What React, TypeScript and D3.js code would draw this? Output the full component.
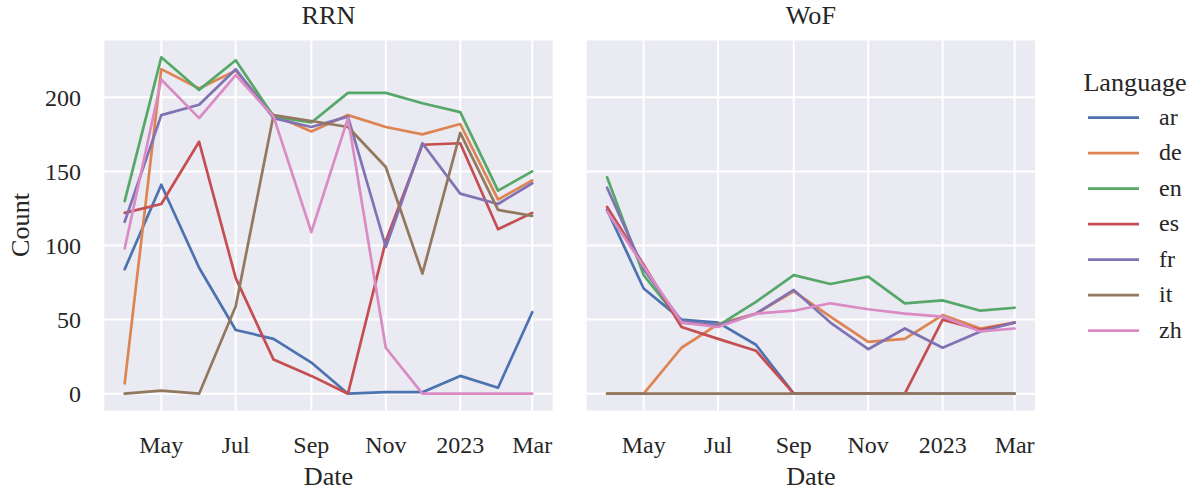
import React from 'react';
import * as d3 from 'd3';

// monthly counts per language, two sources side by side

const months = ['2022-04-01', '2022-05-01', '2022-06-01', '2022-07-01', '2022-08-01', '2022-09-01',
  '2022-10-01', '2022-11-01', '2022-12-01', '2023-01-01', '2023-02-01', '2023-03-01'];

const languages = ['ar', 'de', 'en', 'es', 'fr', 'it', 'zh'];
const panels = ['RRN', 'WoF'];

const rrnAr = [84, 141, 85, 43, 37, 21, 0, 1, 1, 12, 4, 55];
const rrnDe = [7, 219, 206, 218, 188, 177, 188, 180, 175, 182, 131, 144];
const rrnEn = [130, 227, 205, 225, 187, 183, 203, 203, 196, 190, 137, 150];
const rrnEs = [122, 128, 170, 78, 23, 12, 0, 103, 168, 169, 111, 122];
const rrnFr = [116, 188, 195, 219, 186, 180, 187, 99, 169, 135, 128, 142];
const rrnIt = [0, 2, 0, 59, 188, 184, 180, 153, 81, 176, 124, 120];
const rrnZh = [98, 212, 186, 215, 187, 109, 186, 31, 0, 0, 0, 0];

const wofAr = [124, 71, 50, 48, 33, 0, 0, 0, 0, 0, 0, 0];
const wofDe = [0, 0, 31, 47, 54, 69, 52, 35, 37, 53, 44, 48];
const wofEn = [146, 80, 48, 46, 62, 80, 74, 79, 61, 63, 56, 58];
const wofEs = [126, 87, 45, 37, 29, 0, 0, 0, 0, 50, 43, 48];
const wofFr = [139, 84, 49, 46, 54, 70, 48, 30, 44, 31, 42, 48];
const wofIt = [0, 0, 0, 0, 0, 0, 0, 0, 0, 0, 0, 0];
const wofZh = [123, 86, 48, 45, 54, 56, 61, 57, 54, 52, 42, 44];

const series: Record<string, number[][]> = {
  RRN: [rrnAr, rrnDe, rrnEn, rrnEs, rrnFr, rrnIt, rrnZh],
  WoF: [wofAr, wofDe, wofEn, wofEs, wofFr, wofIt, wofZh],
};

const yTicks = [0, 50, 100, 150, 200];
const colors = ['#4c72b0', '#dd8452', '#55a868', '#c44e52', '#8172b3', '#937860', '#da8bc3'];

// tick/legend text is a bit smaller than labels and titles
const small = { fontFamily: 'Liberation Serif', fontSize: 24, fill: '#262626' };
const big = { fontFamily: 'Liberation Serif', fontSize: 26.2, fill: '#262626' };

const top = 40.5;
const bottom = 410.5;
const panelW = 448.3;
const lefts = [104.3, 586.7];

const dates = months.map(m => d3.isoParse(m) as Date);
const t0 = dates[0].getTime();
const t1 = dates[dates.length - 1].getTime();
const padT = (t1 - t0) * 0.05;

const yMax = d3.max(panels.flatMap(p => series[p].flat())) as number;
const yScale = d3.scaleLinear().domain([-yMax * 0.05, yMax * 1.05]).range([bottom, top]);

const xTicks = d3.utcMonth.every(2)!.range(new Date(Date.UTC(2022, 4, 1)), new Date(Date.UTC(2023, 3, 2)));
const fmt = (d: Date) => (d.getUTCMonth() === 0 ? d3.utcFormat('%Y')(d) : d3.utcFormat('%b')(d));

const Panel = ({ name, left }: { name: string; left: number }) => {
  const xScale = d3.scaleUtc()
    .domain([new Date(t0 - padT), new Date(t1 + padT)])
    .range([left, left + panelW]);
  const line = d3.line<number>()
    .x((_, i) => xScale(dates[i]))
    .y(d => yScale(d));

  return (
    <g>
      <rect x={left} y={top} width={panelW} height={bottom - top} fill="#eaeaf2" />
      {xTicks.map(d => (
        <line key={'gx' + d.getTime()} x1={xScale(d)} x2={xScale(d)} y1={top} y2={bottom} stroke="#fff" strokeWidth={2} />
      ))}
      {yTicks.map(d => (
        <line key={'gy' + d} x1={left} x2={left + panelW} y1={yScale(d)} y2={yScale(d)} stroke="#fff" strokeWidth={2} />
      ))}
      {xTicks.map(d => (
        <text key={'tx' + d.getTime()} x={xScale(d)} y={453} textAnchor="middle" style={small}>
          {fmt(d)}
        </text>
      ))}
      <text x={left + panelW / 2} y={485} textAnchor="middle" style={big}>Date</text>
      <text x={left + panelW / 2} y={24} textAnchor="middle" style={big}>{name}</text>
      {series[name].map((vals, li) => (
        <path
          key={languages[li]}
          d={line(vals) || ''}
          fill="none"
          stroke={colors[li]}
          strokeWidth={2.7}
          strokeLinejoin="round"
          strokeLinecap="round"
        />
      ))}
    </g>
  );
};

const App = () => (
  <svg width="1199" height="490" style={{ position: 'absolute', left: 0, top: 0, background: '#fff' }}>
    {panels.map((p, i) => <Panel key={p} name={p} left={lefts[i]} />)}

    {yTicks.map(d => (
      <text key={'ty' + d} x={81} y={yScale(d)} dy="0.35em" textAnchor="end" style={small}>{d}</text>
    ))}
    <text transform="translate(29, 225) rotate(-90)" textAnchor="middle" style={big}>Count</text>

    <text x={1135} y={91} textAnchor="middle" style={big}>Language</text>
    {languages.map((lang, i) => {
      const y = 117.7 + i * 35.5;
      return (
        <g key={lang}>
          <line x1={1088} x2={1139} y1={y} y2={y} stroke={colors[i]} strokeWidth={2.7} />
          <text x={1159} y={y} dy="0.3em" style={small}>{lang}</text>
        </g>
      );
    })}
  </svg>
);

export default App;
